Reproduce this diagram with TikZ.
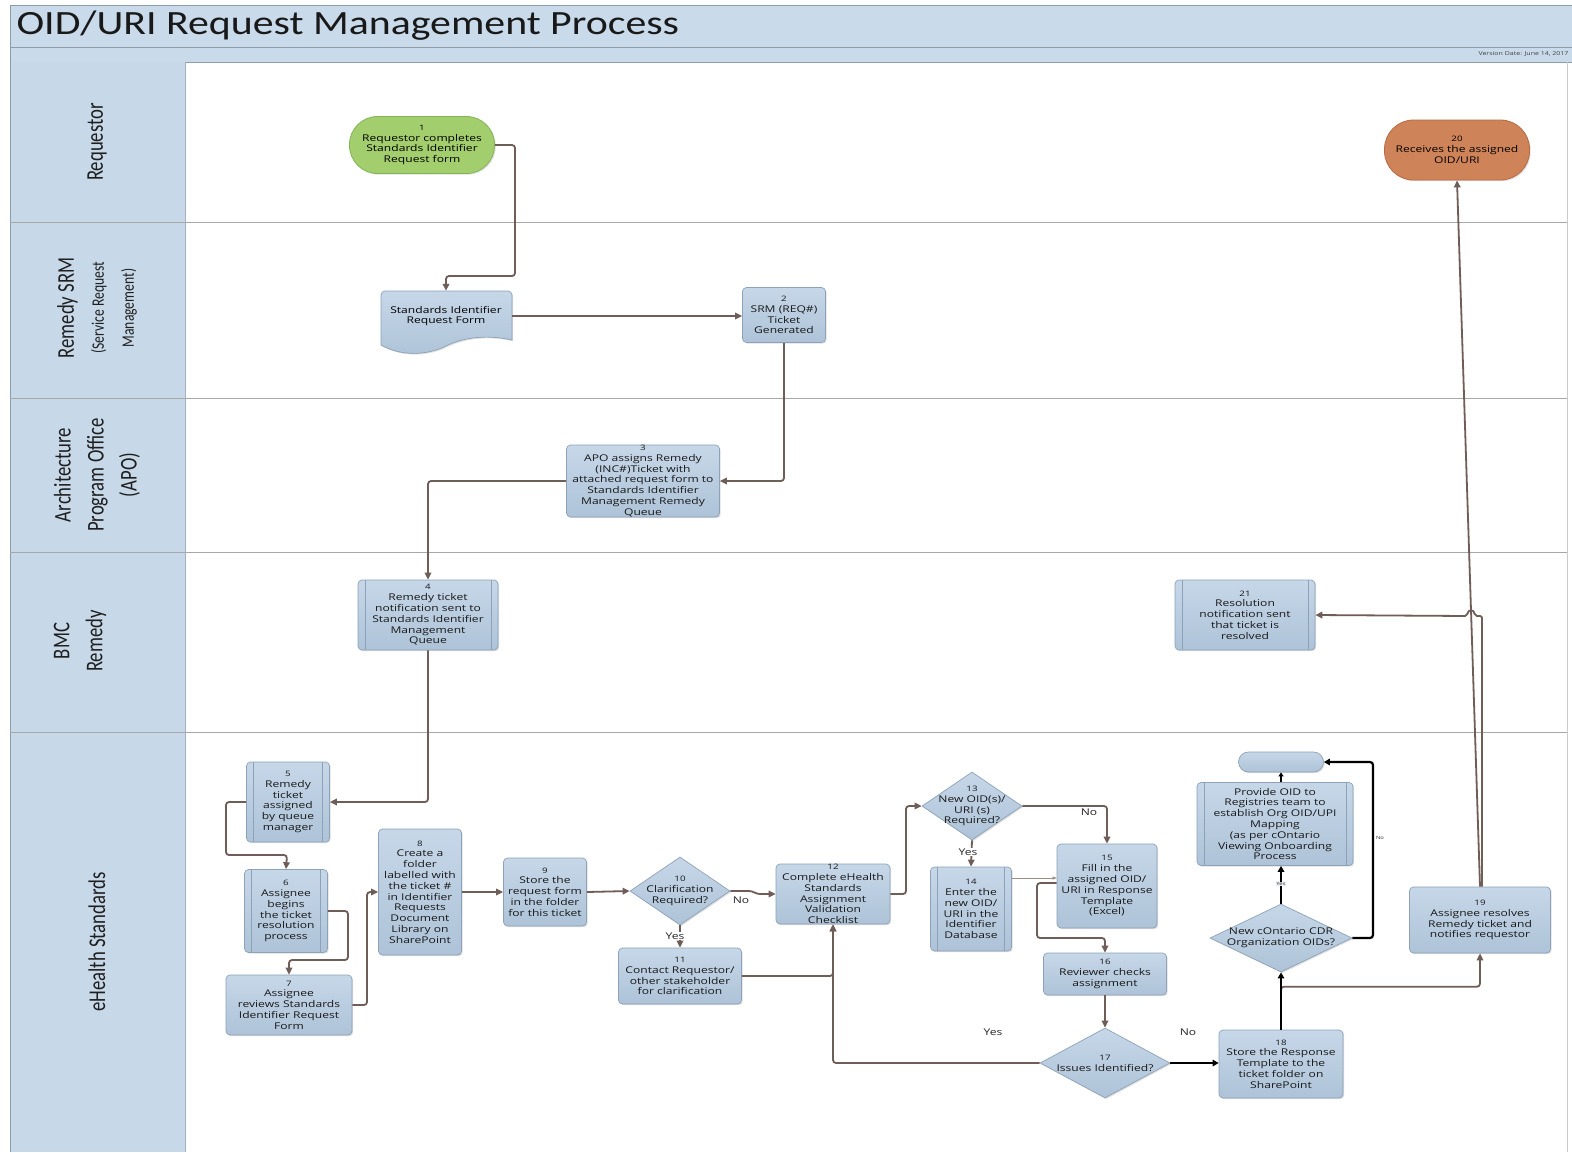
\documentclass[tikz,border=0pt]{standalone}
\usepackage{fontspec}
\setmainfont{Open Sans}
\newfontfamily\nodefont[FakeStretch=1.3]{Open Sans}
\newfontfamily\lanefont[FakeStretch=0.78]{Carlito}
\newfontfamily\titlefont[FakeStretch=1.23]{Carlito}
\usetikzlibrary{shapes.geometric,arrows.meta,shadows}
\newcommand\stepno[1]{{\fontsize{7.5}{10.8}\selectfont #1}}
\definecolor{boxtop}{HTML}{C6D7E8}
\definecolor{boxbot}{HTML}{AEC3D8}
\definecolor{boxline}{HTML}{8DA2B8}
\definecolor{connc}{HTML}{6F5D57}
\definecolor{lanefill}{HTML}{C7D8E8}
\definecolor{titlefill}{HTML}{C9DAEA}
\definecolor{greenfill}{HTML}{A3CE6E}
\definecolor{greenline}{HTML}{84B455}
\definecolor{orangefill}{HTML}{CF8358}
\definecolor{orangeline}{HTML}{B86A40}
\definecolor{sepc}{HTML}{A8A8A8}
\definecolor{framec}{HTML}{8E9CAA}
\begin{document}
\begin{tikzpicture}[x=1pt,y=-1pt,
  nfont/.style={font=\nodefont\fontsize{9.3}{10.8}\selectfont},
  proc/.style={rectangle, rounded corners=4pt, draw=boxline, line width=0.7pt,
    top color=boxtop, bottom color=boxbot, align=center, nfont, text=black!90,
    inner sep=0pt, drop shadow={shadow xshift=1.2pt, shadow yshift=-1.2pt, opacity=0.25}},
  subproc/.style={proc, path picture={
    \draw[boxline, line width=0.7pt]
      ([xshift=7pt]path picture bounding box.north west) -- ([xshift=7pt]path picture bounding box.south west)
      ([xshift=-7pt]path picture bounding box.north east) -- ([xshift=-7pt]path picture bounding box.south east);}},
  decision/.style={diamond, draw=boxline, line width=0.7pt, top color=boxtop, bottom color=boxbot,
    inner sep=0pt, drop shadow={shadow xshift=1.2pt, shadow yshift=-1.2pt, opacity=0.25}},
  dtext/.style={align=center, nfont, text=black!90},
  startnode/.style={rectangle, rounded corners=28pt, draw=greenline, line width=0.8pt, fill=greenfill,
    align=center, nfont, inner sep=0pt, drop shadow={shadow xshift=1.2pt, shadow yshift=-1.2pt, opacity=0.25}},
  endnode/.style={rectangle, rounded corners=29pt, draw=orangeline, line width=0.8pt, fill=orangefill,
    align=center, nfont, inner sep=0pt, drop shadow={shadow xshift=1.2pt, shadow yshift=-1.2pt, opacity=0.25}},
  conn/.style={draw=connc, line width=1.8pt, -{Triangle[length=7pt,width=6.5pt]}, rounded corners=3pt},
  blk/.style={draw=black, line width=2.2pt, -{Triangle[length=6pt,width=6.5pt]}, rounded corners=3pt},
  lbl/.style={nfont, text=black!85},
  tinylbl/.style={font=\nodefont\fontsize{4.5}{5}\selectfont, text=black!80},
  lane/.style={rotate=90, align=center, font=\lanefont\fontsize{24}{33}\selectfont, text=black!88},
]
\useasboundingbox (0,0) rectangle (1572,1152);
\fill[white] (0,0) rectangle (1572,1152);
% title band
\fill[titlefill] (10,5) rectangle (1572,62);
\draw[framec, line width=0.8pt] (10,5) -- (1572,5);
\draw[framec, line width=0.8pt] (10,47) -- (1572,47);
\draw[framec, line width=0.8pt] (10,62) -- (1572,62);
\node[anchor=west, font=\titlefont\fontsize{34}{36}\selectfont, text=black!90] (title) at (13,26) {OID/URI Request Management Process};
\node[anchor=east, font=\nodefont\fontsize{5.4}{6}\selectfont, text=black!75] (vdate) at (1572,54.5) {Version Date: June 14, 2017};
% lane label column
\fill[lanefill] (10,62) rectangle (185,1152);
\draw[framec, line width=0.8pt] (10,5) -- (10,1152);
\draw[framec!80, line width=0.8pt] (185,62) -- (185,1152);
\draw[sepc!60, line width=0.6pt] (1567,62) -- (1567,1152);
\foreach \yy in {222,398,552,732} {
  \draw[sepc, line width=0.8pt] (10,\yy) -- (1567,\yy);
}
\node[lane] (lreq) at (97,142) {Requestor};
\node[lane] (lsrm) at (97,308) {Remedy SRM\\[-3pt]{\fontsize{17.5}{30}\selectfont (Service Request}\\[-3pt]{\fontsize{17.5}{30}\selectfont Management)}};
\node[lane] (lapo) at (97,475) {Architecture\\Program Office\\(APO)};
\node[lane] (lbmc) at (80,641) {BMC\\Remedy};
\node[lane] (lehs) at (97,942) {eHealth Standards};

% document shape for request form
\draw[boxline, line width=0.7pt, top color=boxtop, bottom color=boxbot,
  drop shadow={shadow xshift=1.2pt, shadow yshift=-1.2pt, opacity=0.25}]
  (381,345) -- (381,295) [rounded corners=4pt] -- (381,291) -- (512,291) [sharp corners] -- (512,340)
  .. controls (485,334) and (462,338) .. (446,346)
  .. controls (428,355) and (402,357) .. (381,345) -- cycle;

% nodes
\node[startnode, minimum width=145pt, minimum height=57pt] (n1) at (422,145) {\stepno{1}\\Requestor completes\\Standards Identifier\\Request form};
\node[endnode, minimum width=145pt, minimum height=60pt] (n20) at (1457,150) {\stepno{20}\\Receives the assigned\\OID/URI};
\node[align=center, nfont, minimum width=131pt, minimum height=50pt, inner sep=0pt] (sirf) at (446,316) {Standards Identifier\\Request Form};
\node[proc, minimum width=83pt, minimum height=55pt] (n2) at (784,315) {\stepno{2}\\SRM (REQ\#)\\Ticket\\Generated};
\node[proc, minimum width=153pt, minimum height=72pt] (n3) at (643,481) {\stepno{3}\\APO assigns  Remedy\\(INC\#)Ticket with\\attached request form to\\Standards Identifier\\Management Remedy\\Queue};
\node[subproc, minimum width=140pt, minimum height=70pt] (n4) at (428,615) {\stepno{4}\\Remedy ticket\\notification sent  to\\Standards Identifier\\Management\\Queue};
\node[subproc, minimum width=140pt, minimum height=70pt] (n21) at (1245,615) {\stepno{21}\\Resolution\\notification sent\\that ticket is\\resolved};
\node[subproc, minimum width=83pt, minimum height=80pt] (n5) at (288,802) {\stepno{5}\\Remedy\\ticket\\assigned\\by queue\\manager};
\node[subproc, minimum width=83pt, minimum height=83pt] (n6) at (286,911) {\stepno{6}\\Assignee\\begins\\the ticket\\resolution\\process};
\node[proc, minimum width=126pt, minimum height=60pt] (n7) at (289,1005) {\stepno{7}\\Assignee\\reviews Standards\\Identifier Request\\Form};
\node[proc, minimum width=83pt, minimum height=126pt] (n8) at (420,892) {\stepno{8}\\Create a\\folder\\labelled with\\the ticket \#\\in Identifier\\Requests\\Document\\Library on\\SharePoint};
\node[proc, minimum width=83pt, minimum height=68pt] (n9) at (545,892) {\stepno{9}\\Store the\\request form\\in the folder\\for this ticket};
\node[decision, minimum width=100pt, minimum height=68pt, label={[dtext]center:{\stepno{10}\\Clarification\\Required?}}] (n10) at (680,891) {};
\node[proc, minimum width=123pt, minimum height=56pt] (n11) at (680,976) {\stepno{11}\\Contact Requestor/\\other stakeholder\\for clarification};
\node[proc, minimum width=114pt, minimum height=60pt] (n12) at (833,894) {\stepno{12}\\Complete eHealth\\Standards\\Assignment\\Validation\\Checklist};
\node[decision, minimum width=100pt, minimum height=68pt, label={[dtext]center:{\stepno{13}\\New OID(s)/\\URI (s)\\Required?}}] (n13) at (972,806) {};
\node[subproc, minimum width=81pt, minimum height=84pt] (n14) at (971,909) {\stepno{14}\\Enter the\\new OID/\\URI in the\\Identifier\\Database};
\node[proc, minimum width=100pt, minimum height=84pt] (n15) at (1107,886) {\stepno{15}\\Fill in the\\assigned OID/\\URI in Response\\Template\\(Excel)};
\node[proc, minimum width=123pt, minimum height=42pt] (n16) at (1105,974) {\stepno{16}\\Reviewer checks\\assignment};
\node[decision, minimum width=130pt, minimum height=70pt, label={[dtext]center:{\stepno{17}\\Issues Identified?}}] (n17) at (1105,1063) {};
\node[proc, minimum width=124pt, minimum height=68pt] (n18) at (1281,1064) {\stepno{18}\\Store the Response\\Template to the\\ticket folder on\\SharePoint};
\node[decision, minimum width=142pt, minimum height=68pt, label={[dtext]center:{New cOntario CDR\\Organization OIDs?}}] (oc) at (1281,938) {};
\node[subproc, minimum width=156pt, minimum height=83pt] (prov) at (1275,824) {Provide OID to\\Registries team to\\establish Org OID/UPI\\Mapping\\(as per cOntario\\Viewing Onboarding\\Process};
\node[proc, rounded corners=10pt, minimum width=85pt, minimum height=20pt] (stub) at (1281,762) {};
\node[proc, minimum width=141pt, minimum height=66pt] (n19) at (1480,920) {\stepno{19}\\Assignee resolves\\Remedy ticket and\\notifies requestor};

% connectors
\draw[conn] (n1.east) -- (515,145) -- (515,276) -- (446,276) -- (sirf.north);
\draw[conn] (sirf.east) -- (sirf.east -| n2.west);
\draw[conn] (n2.south) |- (n3.east);
\draw[conn] (n3.west) -| (n4.north);
\draw[conn] (n4.south) |- (n5.east);
\draw[conn] (n5.west) -- (226,802) -- (226,855) -- (287,855) -- (n6.north);
\draw[conn] (n6.east) -- (348,911) -- (348,960) -- (289,960) -- (n7.north);
\draw[conn] (n7.east) -- (367,1005) -- (367,892) -- (n8.west);
\draw[conn] (n8.east) -- (n9.west);
\draw[conn] (n9.west -| n9.east) -- (n10.west);
\draw[conn] (n10.east) -- (752,891) -- (757,894) -- (n12.west);
\node[lbl] (lno10) at (741,900) {No};
\draw[conn] (n10.south) -- (n11.north);
\node[lbl, fill=white, inner sep=0.5pt] (lyes10) at (675,936) {Yes};
\draw[conn] (n11.east) -| (n12.south);
\draw[conn] (n12.east) -- (906,894) -- (906,806) -- (n13.west);
\draw[conn] (n13.east) -| (n15.north);
\node[lbl] (lno13) at (1089,812) {No};
\draw[conn] (n13.south) -- (n14.north);
\node[lbl, fill=white, inner sep=0.5pt] (lyes13) at (968,852) {Yes};
\draw[connc!70, line width=0.6pt, -{Triangle[length=4pt,width=3pt]}] ([yshift=31pt]n14.east) -- ([yshift=31pt]n14.east -| n15.west);
\draw[conn] ([yshift=3pt]n15.west) -- (1037,883) -- (1037,938) -- (1105,938) -- (n16.north);
\draw[conn] (n16.south) -- (n17.north);
\draw[conn] (n17.west) -| (n12.south);
\node[lbl] (lyes17) at (993,1032) {Yes};
\draw[blk] (n17.east) -- (n17.east -| n18.west);
\node[lbl] (lno17) at (1188,1032) {No};
\draw[conn] (n18.north) -- ++(0,-43) -| (n19.south);
\draw[blk] (n18.north) -- (oc.south);
\draw[blk] (oc.north) -- (oc.north |- prov.south);
\node[tinylbl, fill=boxtop!40, inner sep=0.3pt] (lyesoc) at (1281,884) {Yes};
\draw[blk] (oc.east) -- (1373,938) -- (1373,762) -- (stub.east);
\node[tinylbl, fill=white, inner sep=0.3pt] (lnooc) at (1380,838) {No};
\draw[blk, line width=1.6pt, -{Triangle[length=4pt,width=5pt]}] (stub.south |- prov.north) -- (stub.south);
\draw[conn] (n19.north) -- (n20.south);
\draw[conn, rounded corners=2pt] ([xshift=2pt]n19.north) -- (1482,616) -- (1475,616)
  .. controls (1474,609) and (1468,609) .. (1467,616) -- (n21.east);
\end{tikzpicture}
\end{document}
